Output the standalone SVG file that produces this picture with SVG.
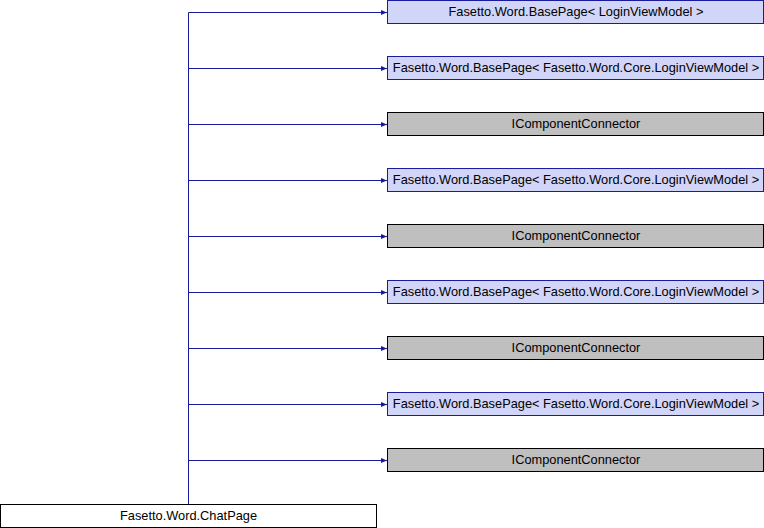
<svg xmlns="http://www.w3.org/2000/svg" width="764" height="528" viewBox="0 0 764 528">
<defs>
<style>
.blue rect{fill:#d1d5f7;stroke:#1a1a9c;stroke-width:1}
.gray rect{fill:#bfbfbf;stroke:#000;stroke-width:1}
.white rect{fill:#fff;stroke:#000;stroke-width:1}
text{font-family:"Liberation Sans",Arial,sans-serif;font-size:12.8px;fill:#000;text-anchor:middle}
.edge{stroke:#1a1a9c;stroke-width:1;fill:none}
</style>
<marker id="arr" markerWidth="6" markerHeight="6" refX="6" refY="3" orient="auto" markerUnits="userSpaceOnUse">
<path d="M0,0.5 L6,3 L0,5.5 Z" fill="#1a1a9c"/>
</marker>
</defs>
<rect width="764" height="528" fill="#fff"/>
<g id="connectors">
<path class="edge" d="M188.5,504 V12.5"/>
<path class="edge" d="M188.5,12.5 H387" marker-end="url(#arr)"/>
<path class="edge" d="M188.5,68.5 H387" marker-end="url(#arr)"/>
<path class="edge" d="M188.5,124.5 H387" marker-end="url(#arr)"/>
<path class="edge" d="M188.5,180.5 H387" marker-end="url(#arr)"/>
<path class="edge" d="M188.5,236.5 H387" marker-end="url(#arr)"/>
<path class="edge" d="M188.5,292.5 H387" marker-end="url(#arr)"/>
<path class="edge" d="M188.5,348.5 H387" marker-end="url(#arr)"/>
<path class="edge" d="M188.5,404.5 H387" marker-end="url(#arr)"/>
<path class="edge" d="M188.5,460.5 H387" marker-end="url(#arr)"/>
</g>
<g id="n1" class="blue"><rect x="387.5" y="0.5" width="376" height="23"/><text x="576" y="15.5">Fasetto.Word.BasePage&lt; LoginViewModel &gt;</text></g>
<g id="n2" class="blue"><rect x="387.5" y="56.5" width="376" height="23"/><text x="576" y="71.5">Fasetto.Word.BasePage&lt; Fasetto.Word.Core.LoginViewModel &gt;</text></g>
<g id="n3" class="gray"><rect x="387.5" y="112.5" width="376" height="23"/><text x="576" y="127.5">IComponentConnector</text></g>
<g id="n4" class="blue"><rect x="387.5" y="168.5" width="376" height="23"/><text x="576" y="183.5">Fasetto.Word.BasePage&lt; Fasetto.Word.Core.LoginViewModel &gt;</text></g>
<g id="n5" class="gray"><rect x="387.5" y="224.5" width="376" height="23"/><text x="576" y="239.5">IComponentConnector</text></g>
<g id="n6" class="blue"><rect x="387.5" y="280.5" width="376" height="23"/><text x="576" y="295.5">Fasetto.Word.BasePage&lt; Fasetto.Word.Core.LoginViewModel &gt;</text></g>
<g id="n7" class="gray"><rect x="387.5" y="336.5" width="376" height="23"/><text x="576" y="351.5">IComponentConnector</text></g>
<g id="n8" class="blue"><rect x="387.5" y="392.5" width="376" height="23"/><text x="576" y="407.5">Fasetto.Word.BasePage&lt; Fasetto.Word.Core.LoginViewModel &gt;</text></g>
<g id="n9" class="gray"><rect x="387.5" y="448.5" width="376" height="23"/><text x="576" y="463.5">IComponentConnector</text></g>
<g id="n0" class="white"><rect x="0.5" y="504.5" width="376" height="23"/><text x="188.5" y="519.5">Fasetto.Word.ChatPage</text></g>
</svg>
